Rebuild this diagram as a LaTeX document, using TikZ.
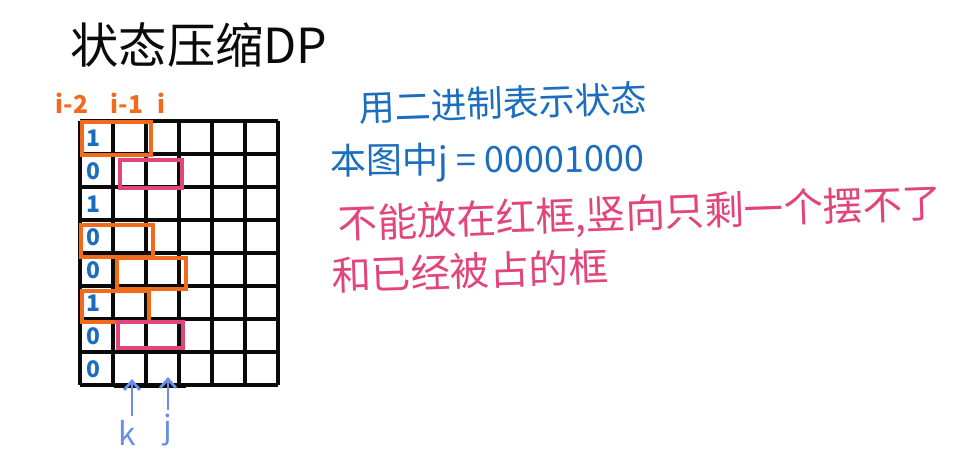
\documentclass[tikz,border=0pt]{standalone}
\usepackage{fontspec}
\newfontfamily\cjk{Noto Sans CJK SC}
\usepackage{tikz}
\usetikzlibrary{arrows.meta,positioning}
\definecolor{inkblack}{HTML}{0A0A0A}
\definecolor{inkblue}{HTML}{1B6DBF}
\definecolor{inkorange}{HTML}{F26A1B}
\definecolor{inkpink}{HTML}{E2457A}
\definecolor{inkviolet}{HTML}{6A8CEB}
\tikzset{
  gridline/.style={draw=inkblack, line width=2.2pt},
  obox/.style={draw=inkorange, line width=1.9pt},
  pbox/.style={draw=inkpink, line width=1.9pt},
  titletxt/.style={text=inkblack, font=\cjk\fontsize{27.5}{30}\selectfont, inner sep=0pt},
  bluetxt/.style={text=inkblue, font=\cjk\fontsize{20.5}{24}\selectfont, inner sep=0pt},
  pinktxt/.style={text=inkpink, font=\cjk\fontsize{22.5}{26}\selectfont, inner sep=0pt},
  bitlbl/.style={text=inkblue, font=\cjk\bfseries\fontsize{13}{15}\selectfont, inner sep=0pt},
  collbl/.style={text=inkorange, font=\cjk\bfseries\fontsize{14}{16}\selectfont, inner sep=0pt},
  ptrlbl/.style={text=inkviolet, font=\cjk\fontsize{18}{20}\selectfont, inner sep=0pt},
  ptrarr/.style={-{Straight Barb[length=5pt,width=9pt]}, draw=inkviolet, line width=1.6pt},
}

\begin{document}
\begin{tikzpicture}[x=0.02cm, y=-0.02cm]
  \useasboundingbox (0,0) rectangle (960,456);

  \node[titletxt] (title) at (199,45) {状态压缩DP};

  % board, 8 rows x 6 columns
  \foreach \c in {0,...,6}
    \draw[gridline] (80+33*\c,121) -- (80+33*\c,385);
  \foreach \r in {0,...,8}
    \draw[gridline] (80,121+33*\r) -- (278,121+33*\r);
  \draw[gridline] (114,386) -- (186,386);

  \foreach \b [count=\r from 0] in {1,0,1,0,0,1,0,0}
    \node[bitlbl] (bit\r) at (93,138+33*\r) {\b};

  \node[collbl] (cim2) at (72,103) {i-2};
  \node[collbl] (cim1) at (127,103) {i-1};
  \node[collbl] (ci)   at (161,103) {i};

  \draw[obox] (82,122) rectangle (151,155);
  \draw[obox] (81,225) rectangle (153,257);
  \draw[obox] (117,258) rectangle (186,289);
  \draw[obox] (82,291) rectangle (149,322);
  \draw[pbox] (120,160) rectangle (182,188);
  \draw[pbox] (118,322) rectangle (183,348);

  \coordinate (kend) at (132,379);
  \coordinate (jend) at (168,377);
  \coordinate (kfoot) at (132,416);
  \coordinate (jfoot) at (168,410);
  \node[ptrlbl] (klbl) at (127,433) {k};
  \node[ptrlbl] (jlbl) at (168,430) {j};
  \draw[ptrarr] (kfoot) -- (kend);
  \draw[ptrarr] (jfoot) -- (jend);

  \node[bluetxt, rotate=2]   (howto) at (503,103) {用二进制表示状态};
  \node[bluetxt, rotate=0.5] (jval)  at (487,162) {本图中j = 00001000};
  \node[pinktxt, rotate=2]   (why1)  at (640,215) {不能放在红框,竖向只剩一个摆不了};
  \node[pinktxt, rotate=2]   (why2)  at (470,271) {和已经被占的框};
\end{tikzpicture}
\end{document}
